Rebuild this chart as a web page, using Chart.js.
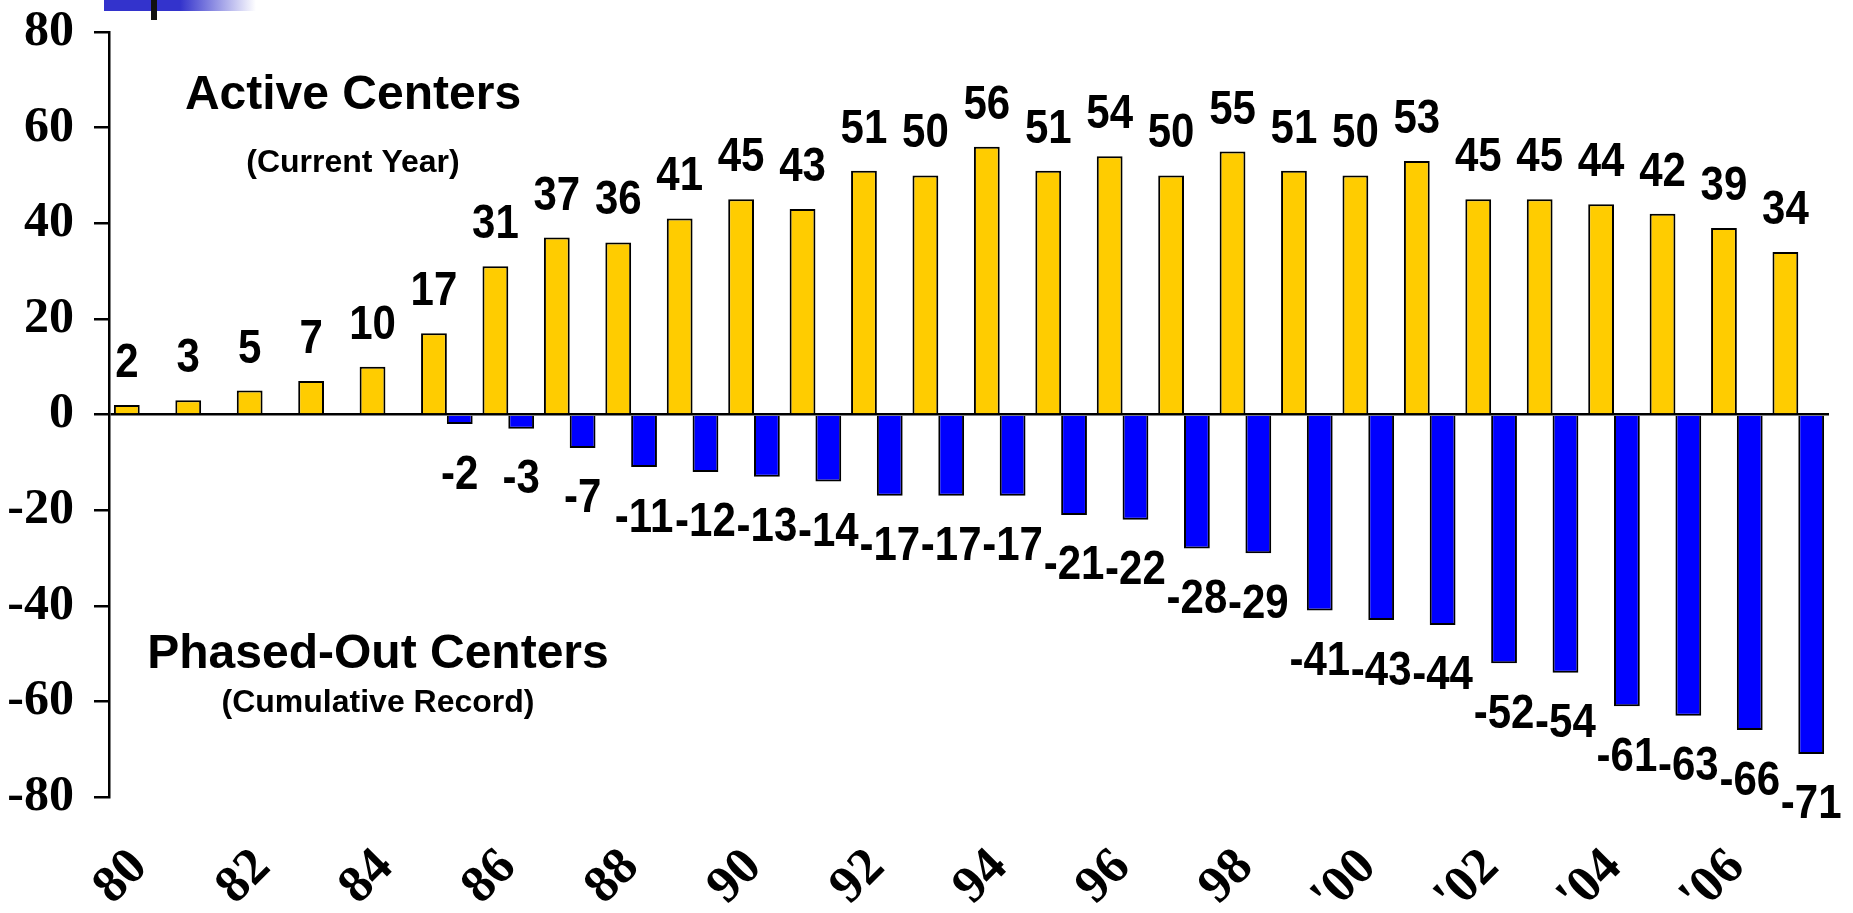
<!DOCTYPE html>
<html>
<head>
<meta charset="utf-8">
<script src="https://cdn.jsdelivr.net/npm/chart.js@4/dist/chart.umd.min.js"></script>
<style>
  html, body { margin: 0; padding: 0; background: #fff; }
  #wrap { position: relative; width: 1853px; height: 913px; }
  #band { position: absolute; left: 104px; top: 0; width: 152px; height: 11px;
          background: linear-gradient(to right, #3333cc 0%, #3333cc 50%, #ffffff 100%); }
  #mark { position: absolute; left: 151px; top: 0; width: 6px; height: 20px; background: #111; }
</style>
</head>
<body>
<div id="wrap">
  <canvas id="chart"></canvas>
  <div id="band"></div>
  <div id="mark"></div>
</div>
<script>
const years = ["80", "81", "82", "83", "84", "85", "86", "87", "88", "89",
  "90", "91", "92", "93", "94", "95", "96", "97", "98", "99",
  "'00", "'01", "'02", "'03", "'04", "'05", "'06", "'07"]
const activeCenters = [2, 3, 5, 7, 10, 17, 31, 37, 36, 41, 45, 43, 51, 50, 56, 51, 54, 50, 55, 51,
  50, 53, 45, 45, 44, 42, 39, 34]
const phasedOutCenters = [null, null, null, null, null, -2, -3, -7, -11, -12, -13, -14, -17, -17,
  -17, -21, -22, -28, -29, -41, -43, -44, -52, -54, -61, -63, -66, -71]
const yMin = -80
const yMax = 80
const yStep = 20

const serif = "'Liberation Serif', 'Times New Roman', serif"
const sans = "'Liberation Sans', Arial, sans-serif"

// value labels above / below each bar (text a bit stretched, like the original)
const valueLabels = {
  id: "valueLabels",
  afterDatasetsDraw(chart) {
    const ctx = chart.ctx
    ctx.save()
    ctx.font = "bold 42px " + sans
    ctx.fillStyle = "#000"
    ctx.textAlign = "center"
    chart.data.datasets.forEach((ds, i) => {
      chart.getDatasetMeta(i).data.forEach((bar, j) => {
        const v = ds.data[j]
        if (v === null || v === undefined) return
        const up = v >= 0
        const y = up ? bar.y - 28 : bar.y + 27
        ctx.save()
        ctx.translate(bar.x, y)
        ctx.scale(1, 1.15)
        ctx.textBaseline = up ? "alphabetic" : "top"
        ctx.fillText(String(v), 0, 0)
        ctx.restore()
      })
    })
    ctx.restore()
  }
}

// the two captions in the plot
const captions = {
  id: "captions",
  afterDraw(chart) {
    const ctx = chart.ctx
    ctx.save()
    ctx.fillStyle = "#000"
    ctx.textAlign = "center"
    ctx.textBaseline = "middle"
    ctx.font = "bold 48px " + sans
    ctx.fillText("Active Centers", 353, 96)
    ctx.fillText("Phased-Out Centers", 378, 655)
    ctx.font = "bold 32px " + sans
    ctx.fillText("(Current Year)", 353, 163)
    ctx.fillText("(Cumulative Record)", 378, 703)
    ctx.restore()
  }
}

new Chart(document.getElementById("chart"), {
  type: "bar",
  data: {
    labels: years,
    datasets: [
      {
        label: "Active Centers",
        data: activeCenters,
        backgroundColor: "#FFCC00",
        borderColor: "#000",
        borderWidth: 2
      },
      {
        label: "Phased-Out Centers",
        data: phasedOutCenters,
        backgroundColor: "#0000FF",
        borderColor: "#000",
        borderWidth: 2
      }
    ]
  },
  options: {
    responsive: true,
    maintainAspectRatio: false,
    animation: false,
    datasets: {
      bar: {
        categoryPercentage: 0.84,
        barPercentage: 1
      }
    },
    layout: {
      padding: { top: 32, right: 24, left: 0, bottom: 0 }
    },
    plugins: {
      legend: { display: false },
      tooltip: { enabled: false }
    },
    scales: {
      x: {
        afterFit(scale) {
          scale.height = 116
          scale.paddingLeft = 0
          scale.paddingRight = 0
        },
        border: { display: false },
        grid: { display: false, drawTicks: false },
        ticks: {
          autoSkip: false,
          maxRotation: 45,
          minRotation: 45,
          padding: 40,
          color: "#000",
          font: { family: serif, size: 52, weight: "bold" },
          callback(value, index) {
            return index % 2 === 0 ? years[index] : ""
          }
        }
      },
      y: {
        min: yMin,
        max: yMax,
        afterFit(scale) {
          scale.width = 109
          scale.paddingTop = 0
          scale.paddingBottom = 0
        },
        border: { display: true, color: "#000", width: 2.5 },
        grid: {
          drawOnChartArea: true,
          color: (c) => (c.tick && c.tick.value === 0 ? "#000" : "rgba(0,0,0,0)"),
          tickColor: "#000",
          tickLength: 15,
          lineWidth: 2.5
        },
        ticks: {
          stepSize: yStep,
          padding: 20,
          color: "#000",
          font: { family: serif, size: 50, weight: "bold" }
        }
      }
    }
  },
  plugins: [valueLabels, captions]
})
</script>
</body>
</html>
